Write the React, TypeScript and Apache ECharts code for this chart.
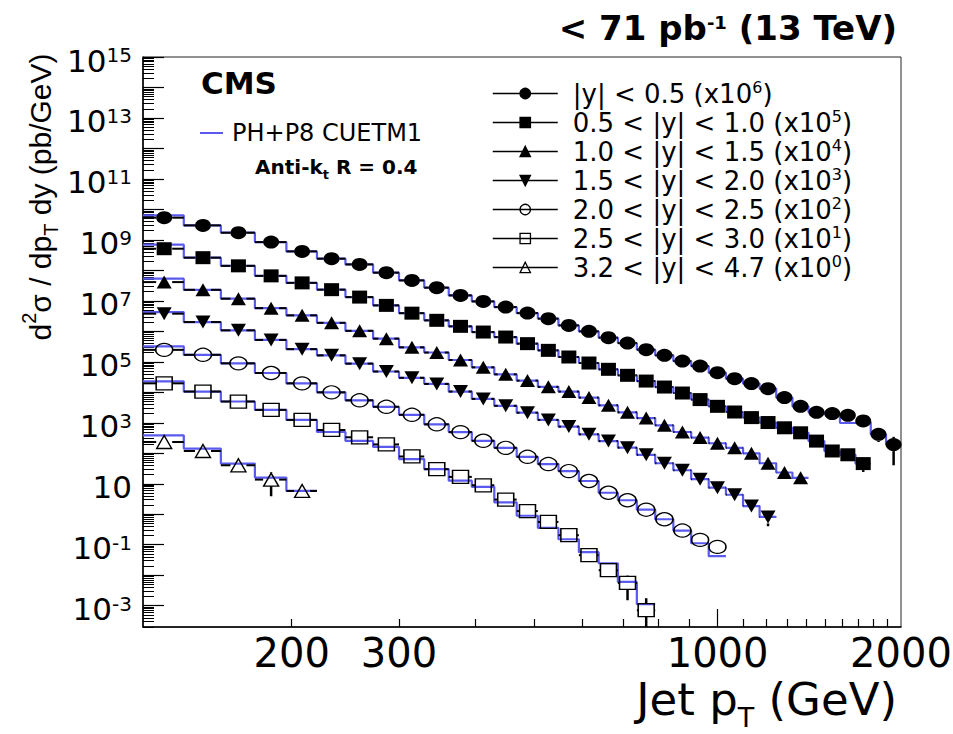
import React, { useEffect, useRef } from "react";
import * as echarts from "echarts";

// ---------------- data ----------------
const ptBinEdges = [114, 133, 153, 174, 196, 220, 245, 272, 300, 330, 362, 395, 430, 468, 507, 548, 592, 638, 686, 737, 790, 846, 905, 967, 1032, 1101, 1172, 1248, 1327, 1410, 1497, 1588, 1684, 1784, 1890, 2000];

const rapidityBins = ["|y| < 0.5", "0.5 < |y| < 1.0", "1.0 < |y| < 1.5", "1.5 < |y| < 2.0", "2.0 < |y| < 2.5", "2.5 < |y| < 3.0", "3.2 < |y| < 4.7"];
const scaleExponents = [6, 5, 4, 3, 2, 1, 0];

// measured cross sections (already multiplied by the legend factor), pb/GeV
const xsecY00 = [5.35e9, 2.99e9, 1.72e9, 8.47e8, 4.2e8, 2.42e8, 1.57e8, 8.41e7, 4.7e7, 2.71e7, 1.51e7, 9.6e6, 6.27e6, 3.98e6, 2.61e6, 1.57e6, 1.0e6, 6.21e5, 4.13e5, 2.51e5, 1.63e5, 1.06e5, 7.28e4, 4.42e4, 2.81e4, 1.93e4, 1.32e4, 6.7e3, 3.47e3, 2.21e3, 2.0e3, 1.76e3, 1.15e3, 4.2e2, 1.93e2];
const xsecY05 = [5.14e8, 2.61e8, 1.41e8, 6.61e7, 3.89e7, 2.33e7, 1.33e7, 7.11e6, 3.95e6, 2.3e6, 1.46e6, 9.49e5, 6.5e5, 3.95e5, 2.38e5, 1.44e5, 9.14e4, 5.68e4, 3.61e4, 2.34e4, 1.49e4, 9.48e3, 5.77e3, 3.47e3, 2.26e3, 1.48e3, 1.02e3, 6.86e2, 4.7e2, 2.51e2, 1.19e2, 8.93e1, 4.59e1];
const xsecY10 = [4.13e7, 2.3e7, 1.18e7, 5.77e6, 3.35e6, 1.9e6, 1.04e6, 5.77e5, 2.99e5, 2.02e5, 1.15e5, 6.61e4, 3.89e4, 2.42e4, 1.51e4, 1.06e4, 6.7e3, 3.75e3, 2.21e3, 1.43e3, 8.28e2, 4.99e2, 3.27e2, 2.13e2, 1.51e2, 1.0e2, 4.7e1, 2.34e1, 1.57e1];
const xsecY15 = [3.8e6, 2.02e6, 1.08e6, 5.22e5, 2.61e5, 1.63e5, 8.73e4, 4.81e4, 2.99e4, 1.88e4, 1.06e4, 6.08e3, 3.61e3, 2.14e3, 1.24e3, 7.5e2, 4.2e2, 2.51e2, 1.53e2, 8.93e1, 4.7e1, 2.77e1, 1.41e1, 7.45, 4.36, 1.86, 0.815];
const xsecY20 = [2.47e5, 1.7e5, 8.93e4, 4.3e4, 1.97e4, 1.0e4, 5.47e3, 3.35e3, 1.83e3, 8.93e2, 4.95e2, 2.57e2, 1.51e2, 7.67e1, 4.43e1, 2.61e1, 1.23e1, 5.07, 2.88, 1.41, 0.685, 0.292, 0.144, 0.0847];
const xsecY25 = [1.97e4, 1.06e4, 4.99e3, 2.65e3, 1.24e3, 5.81e2, 3.35e2, 1.95e2, 7.85e1, 3.01e1, 1.68e1, 8.93, 3.03, 1.27, 0.56, 0.205, 0.0453, 0.0146, 0.0056, 7.11e-4];
const xsecY32 = [234, 119, 40.4, 13.7, 5.81];

// PH+P8 CUETM1 prediction (same binning)
const theoryY00 = [6.37e9, 2.99e9, 1.72e9, 8.47e8, 4.2e8, 2.42e8, 1.57e8, 8.41e7, 4.7e7, 2.71e7, 1.51e7, 9.6e6, 6.27e6, 3.98e6, 2.61e6, 1.57e6, 1.0e6, 6.21e5, 4.13e5, 2.51e5, 1.63e5, 1.06e5, 7.28e4, 4.42e4, 2.81e4, 1.93e4, 1.32e4, 6.7e3, 3.47e3, 2.21e3, 2.0e3, 9.86e2, 1.04e3, 4.2e2, 1.93e2];
const theoryY05 = [6.95e8, 2.61e8, 1.41e8, 6.61e7, 3.89e7, 2.33e7, 1.33e7, 7.11e6, 3.95e6, 2.3e6, 1.46e6, 9.49e5, 6.5e5, 3.95e5, 2.38e5, 1.44e5, 9.14e4, 5.68e4, 3.61e4, 2.34e4, 1.49e4, 9.48e3, 5.77e3, 3.47e3, 2.26e3, 1.48e3, 1.02e3, 6.86e2, 4.7e2, 2.51e2, 1.19e2, 8.93e1, 4.59e1];
const theoryY10 = [5.35e7, 2.3e7, 1.18e7, 5.77e6, 3.35e6, 1.9e6, 1.04e6, 5.77e5, 2.99e5, 2.02e5, 1.15e5, 6.61e4, 3.89e4, 2.42e4, 1.51e4, 1.06e4, 6.7e3, 3.75e3, 2.21e3, 1.43e3, 8.28e2, 4.99e2, 3.27e2, 2.13e2, 1.51e2, 1.0e2, 4.7e1, 2.34e1, 1.57e1];
const theoryY15 = [4.3e6, 2.02e6, 1.08e6, 5.22e5, 2.61e5, 1.63e5, 8.73e4, 4.81e4, 2.99e4, 1.88e4, 1.06e4, 6.08e3, 3.61e3, 2.14e3, 1.24e3, 7.5e2, 4.2e2, 2.51e2, 1.53e2, 8.93e1, 4.7e1, 2.77e1, 1.41e1, 7.45, 4.36, 1.86, 0.815];
const theoryY20 = [3.22e5, 1.7e5, 8.93e4, 4.3e4, 1.97e4, 1.0e4, 5.47e3, 3.35e3, 1.83e3, 8.93e2, 4.95e2, 2.57e2, 1.51e2, 7.67e1, 4.43e1, 2.61e1, 1.23e1, 5.07, 2.88, 1.41, 0.685, 0.292, 0.112, 0.042];
const theoryY25 = [2.3e4, 1.06e4, 4.99e3, 2.65e3, 1.24e3, 4.99e2, 2.55e2, 1.61e2, 6.46e1, 3.0e1, 1.26e1, 7.91, 2.44, 0.893, 0.356, 0.151, 0.0568, 0.0247, 0.00603, 0.00112];
const theoryY32 = [389, 143, 45.9, 16.0, 5.81];

// visible vertical error bars: [set, bin, low, high]
const yErrorBars = [
  [0, 33, 234, 606],
  [0, 34, 40.4, 346],
  [1, 32, 24.4, 67.4],
  [3, 26, 0.404, 1.23],
  [5, 18, 0.00151, 0.0097],
  [5, 19, 0, 0.00176],
  [6, 0, 146, 322],
  [6, 2, 27.7, 53],
  [6, 3, 3.89, 23.5],
];

const xLabelValues = [200, 300, 1000, 2000];
const xMajorTicks = [1000];
const xMinorTicks = [200, 300, 400, 500, 600, 700, 800, 900, 1100, 1200, 1300, 1400, 1500, 1600, 1700, 1800, 1900];
const yLabelExponents = [-3, -1, 1, 3, 5, 7, 9, 11, 13, 15];

const X_MIN = 114;
const X_MAX = 2000;
const Y_MIN = 2e-4;
const Y_MAX = 1.0002e15;

// ---------------- style ----------------
const FONT = "'DejaVu Sans', sans-serif";
const FONT_Y = "'Liberation Sans', Arial, sans-serif";
const BLUE = "#5a5af0";
const THEORY_NAME = "PH+P8 CUETM1";
const GAP_X = 8;
const GAP_Y = 6.5;

const xsecSets = [xsecY00, xsecY05, xsecY10, xsecY15, xsecY20, xsecY25, xsecY32];
const theorySets = [theoryY00, theoryY05, theoryY10, theoryY15, theoryY20, theoryY25, theoryY32];

const DOWN_TRIANGLE = "path://M0,0L20,0L10,17.32Z";
const markerStyles = [
  { symbol: "circle", size: [16, 13], open: false },
  { symbol: "rect", size: [15, 13], open: false },
  { symbol: "triangle", size: [15, 13], open: false },
  { symbol: DOWN_TRIANGLE, size: [15, 13], open: false },
  { symbol: "circle", size: [17, 13], open: true },
  { symbol: "rect", size: [16, 13], open: true },
  { symbol: "triangle", size: [15, 13], open: true },
];

function renderBars(params: any, api: any) {
  const lo = api.value(0);
  const hi = api.value(1);
  const v = api.value(2);
  const eLow = api.value(3);
  const eHigh = api.value(4);
  const cs = params.coordSys;
  const bottom = cs.y + cs.height;
  const left = api.coord([lo, v]);
  const right = api.coord([hi, v]);
  const mid = api.coord([(lo + hi) / 2, v]);
  const y = mid[1];
  const style = { stroke: "#000", lineWidth: 2 };
  const children: any[] = [];
  if (mid[0] - GAP_X > left[0]) {
    children.push({ type: "line", shape: { x1: left[0], y1: y, x2: mid[0] - GAP_X, y2: y }, style });
  }
  if (mid[0] + GAP_X < right[0]) {
    children.push({ type: "line", shape: { x1: mid[0] + GAP_X, y1: y, x2: right[0], y2: y }, style });
  }
  const yLow = Math.min(api.coord([lo, eLow])[1], bottom);
  const yHigh = api.coord([lo, eHigh])[1];
  if (yLow > y + GAP_Y) {
    children.push({ type: "line", shape: { x1: mid[0], y1: y + GAP_Y, x2: mid[0], y2: yLow }, style: { stroke: "#000", lineWidth: 2.5 } });
  }
  if (yHigh < y - GAP_Y) {
    children.push({ type: "line", shape: { x1: mid[0], y1: yHigh, x2: mid[0], y2: y - GAP_Y }, style: { stroke: "#000", lineWidth: 2.5 } });
  }
  return { type: "group", children };
}

function buildOption() {
  const series: any[] = [];
  xsecSets.forEach((values, si) => {
    const theory = theorySets[si];
    const n = values.length;
    const stepData = theory.map((t, i) => [ptBinEdges[i], t]);
    stepData.push([ptBinEdges[n], theory[n - 1]]);
    series.push({
      type: "line",
      name: THEORY_NAME,
      data: stepData,
      step: "end",
      symbol: "none",
      showSymbol: false,
      lineStyle: { color: BLUE, width: 2.2 },
      itemStyle: { color: BLUE },
      z: 2,
      silent: true,
    });

    const barData = values.map((v, i) => {
      const e = yErrorBars.find((b) => b[0] === si && b[1] === i);
      const low = e ? (e[2] > 0 ? e[2] : Y_MIN / 100) : v;
      const high = e ? e[3] : v;
      return [ptBinEdges[i], ptBinEdges[i + 1], v, low, high];
    });
    series.push({
      type: "custom",
      name: "bars" + si,
      data: barData,
      renderItem: renderBars,
      encode: { x: [0, 1], y: [2, 3, 4] },
      z: 3,
      silent: true,
    });

    const m = markerStyles[si];
    series.push({
      type: "line",
      name: rapidityBins[si],
      data: values.map((v, i) => [(ptBinEdges[i] + ptBinEdges[i + 1]) / 2, v]),
      symbol: m.symbol,
      symbolSize: m.size,
      showSymbol: true,
      showAllSymbol: true,
      lineStyle: { width: 0, color: "#000" },
      itemStyle: m.open
        ? { color: "rgba(255,255,255,0)", borderColor: "#000", borderWidth: 1.4 }
        : { color: "#000", borderColor: "#000", borderWidth: 0 },
      z: 4,
      silent: true,
    });
  });

  const yMajorTicks: number[] = [];
  for (let e = -3; e <= 15; e++) yMajorTicks.push(Math.pow(10, e));
  const yMinorTicks: number[] = [];
  for (let e = -4; e <= 14; e++) {
    for (let k = 2; k <= 9; k++) {
      const t = k * Math.pow(10, e);
      if (t >= Y_MIN && t <= Y_MAX) yMinorTicks.push(t);
    }
  }
  const yLabelValues = yLabelExponents.map((e) => Math.pow(10, e));

  const baseX = { type: "log", logBase: 10, min: X_MIN, max: X_MAX, gridIndex: 0, position: "bottom", splitLine: { show: false }, minorTick: { show: false } };
  const baseY = { type: "log", logBase: 10, min: Y_MIN, max: Y_MAX, gridIndex: 0, position: "left", splitLine: { show: false }, minorTick: { show: false } };

  return {
    animation: false,
    backgroundColor: "#fff",
    grid: { left: 143, right: 52, top: 57, bottom: 107, show: true, borderColor: "#222", borderWidth: 1, backgroundColor: "rgba(0,0,0,0)", outerBoundsMode: "none", containLabel: false },
    xAxis: [
      {
        ...baseX,
        axisLine: { show: true, lineStyle: { color: "#000", width: 1.5 } },
        axisTick: { show: true, inside: true, length: 18, customValues: xMajorTicks, lineStyle: { color: "#000", width: 1.2 } },
        axisLabel: { show: true, customValues: xLabelValues, formatter: (v: number) => String(Math.round(v)), fontFamily: FONT, fontSize: 40, color: "#000", margin: 6 },
      },
      {
        ...baseX,
        axisLine: { show: false },
        axisTick: { show: true, inside: true, length: 8, customValues: xMinorTicks, lineStyle: { color: "#000", width: 1.2 } },
        axisLabel: { show: false },
      },
    ],
    yAxis: [
      {
        ...baseY,
        axisLine: { show: true, lineStyle: { color: "#000", width: 1.5 } },
        axisTick: { show: true, inside: true, length: 21, customValues: yMajorTicks, lineStyle: { color: "#000", width: 1.2 } },
        axisLabel: {
          show: true,
          customValues: yLabelValues,
          margin: 11,
          padding: [7, 0, 0, 0],
          formatter: (v: number) => {
            const e = Math.round(Math.log10(v));
            return e === 1 ? "{c|10}" : `{b|10}{s|${e}}`;
          },
          fontFamily: FONT,
          fontSize: 31,
          color: "#000",
          rich: {
            c: { fontFamily: FONT, fontSize: 31, lineHeight: 31, color: "#000" },
            b: { fontFamily: FONT, fontSize: 31, lineHeight: 31, color: "#000" },
            s: { fontFamily: FONT, fontSize: 20, lineHeight: 20, color: "#000", verticalAlign: "top" },
          },
        },
      },
      {
        ...baseY,
        axisLine: { show: false },
        axisTick: { show: true, inside: true, length: 11, customValues: yMinorTicks, lineStyle: { color: "#000", width: 1 } },
        axisLabel: { show: false },
      },
    ],
    legend: [
      {
        data: rapidityBins,
        orient: "vertical",
        left: 492,
        top: 79,
        itemWidth: 65,
        itemHeight: 13,
        itemGap: 0,
        padding: 0,
        selectedMode: false,
        lineStyle: { color: "#000", width: 1.5, opacity: 1 },
        itemStyle: { borderWidth: 1.3 },
        formatter: (name: string) => `${name} (x10{s|${scaleExponents[rapidityBins.indexOf(name)]}})`,
        textStyle: {
          fontFamily: FONT,
          fontSize: 26,
          lineHeight: 29,
          color: "#000",
          padding: [0, 0, 0, 10],
          rich: {
            s: { fontFamily: FONT, fontSize: 16, lineHeight: 14, verticalAlign: "top", color: "#000" },
          },
        },
      },
      {
        data: [{ name: THEORY_NAME, icon: "rect" }],
        left: 200,
        top: 121,
        itemWidth: 23,
        itemHeight: 2,
        padding: 0,
        selectedMode: false,
        textStyle: { fontFamily: FONT, fontSize: 24, lineHeight: 24, color: "#000", padding: [0, 0, 0, 4] },
      },
    ],
    graphic: [
      {
        type: "text",
        x: 897,
        y: 28,
        silent: true,
        style: {
          text: "{a|< 71 pb}{s|-1}{a| (13 TeV)}",
          align: "right",
          verticalAlign: "middle",
          textAlign: "right",
          textVerticalAlign: "middle",
          rich: {
            a: { fontFamily: FONT, fontSize: 34, fontWeight: "bold", lineHeight: 30, fill: "#000", color: "#000" },
            s: { fontFamily: FONT, fontSize: 18, fontWeight: "bold", lineHeight: 18, verticalAlign: "top", fill: "#000", color: "#000" },
          },
        },
      },
      {
        type: "text",
        x: 201,
        y: 83,
        silent: true,
        style: { text: "CMS", fontFamily: FONT, fontSize: 31, fontWeight: "bold", fill: "#000", align: "left", verticalAlign: "middle", textAlign: "left", textVerticalAlign: "middle" },
      },
      {
        type: "text",
        x: 255,
        y: 167,
        silent: true,
        style: {
          text: "{a|Anti-k}{t|t}{a| R = 0.4}",
          align: "left",
          verticalAlign: "middle",
          textAlign: "left",
          textVerticalAlign: "middle",
          rich: {
            a: { fontFamily: FONT, fontSize: 20, fontWeight: "bold", lineHeight: 28, fill: "#000", color: "#000" },
            t: { fontFamily: FONT, fontSize: 13, fontWeight: "bold", lineHeight: 13, verticalAlign: "bottom", fill: "#000", color: "#000" },
          },
        },
      },
      {
        type: "text",
        x: 897,
        y: 699,
        silent: true,
        style: {
          text: "{a|Jet p}{t|T}{a| (GeV)}",
          align: "right",
          verticalAlign: "middle",
          textAlign: "right",
          textVerticalAlign: "middle",
          rich: {
            a: { fontFamily: FONT, fontSize: 45, lineHeight: 64, fill: "#000", color: "#000" },
            t: { fontFamily: FONT, fontSize: 27, lineHeight: 20, verticalAlign: "bottom", fill: "#000", color: "#000" },
          },
        },
      },
      {
        type: "text",
        x: 40,
        y: 197,
        rotation: Math.PI / 2,
        silent: true,
        style: {
          text: "{a|d}{s|2}{a|σ / dp}{t|T}{a| dy (pb/GeV)}",
          align: "center",
          verticalAlign: "middle",
          textAlign: "center",
          textVerticalAlign: "middle",
          rich: {
            a: { fontFamily: FONT_Y, fontSize: 30, lineHeight: 42, fill: "#000", color: "#000" },
            s: { fontFamily: FONT_Y, fontSize: 20, lineHeight: 20, verticalAlign: "top", fill: "#000", color: "#000" },
            t: { fontFamily: FONT_Y, fontSize: 20, lineHeight: 20, verticalAlign: "bottom", fill: "#000", color: "#000" },
          },
        },
      },
    ],
    series,
  };
}

export default function App() {
  const ref = useRef<HTMLDivElement>(null);
  useEffect(() => {
    if (!ref.current) return;
    const chart = echarts.init(ref.current, null, { renderer: "svg" });
    chart.setOption(buildOption() as any);
    return () => chart.dispose();
  }, []);
  return (
    <div
      ref={ref}
      style={{ position: "fixed", left: 0, top: 0, width: 953, height: 734, background: "#fff" }}
    />
  );
}
